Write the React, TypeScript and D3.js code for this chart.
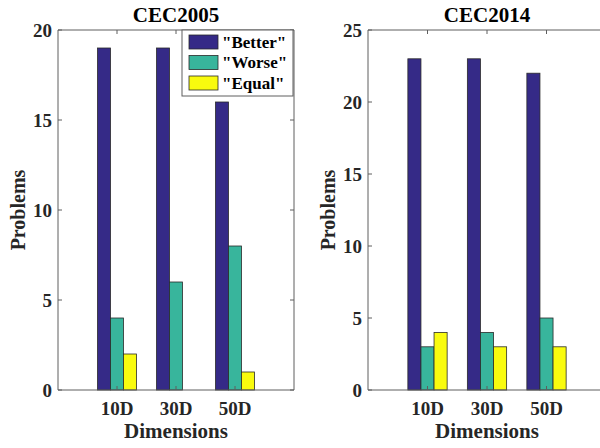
import React from "react";
import * as d3 from "d3";

const categories = ["10D", "30D", "50D"];
const seriesNames = ['"Better"', '"Worse"', '"Equal"'];
const seriesColors = ["#352a87", "#38b59c", "#f9fb0e"];

const cec2005Better = [19, 19, 16];
const cec2005Worse = [4, 6, 8];
const cec2005Equal = [2, 0, 1];

const cec2014Better = [23, 23, 22];
const cec2014Worse = [3, 4, 5];
const cec2014Equal = [4, 3, 3];

const cec2005Ticks = [0, 5, 10, 15, 20];
const cec2014Ticks = [0, 5, 10, 15, 20, 25];

const FONT = "'Liberation Serif', 'Times New Roman', serif";
const AXIS = "#5e5e5e";

type PanelProps = {
  title: string;
  left: number;
  right: number;
  top: number;
  bottom: number;
  yMax: number;
  yTicks: number[];
  values: number[][];
  showRightAxis: boolean;
  legend: boolean;
};

function Panel(p: PanelProps) {
  const x = d3.scaleLinear().domain([0, categories.length + 1]).range([p.left, p.right]);
  const y = d3.scaleLinear().domain([0, p.yMax]).range([p.bottom, p.top]);
  const unit = x(1) - x(0);
  const barW = unit * 0.22;
  const inner = d3
    .scaleBand<number>()
    .domain(seriesNames.map((_, i) => i))
    .range([-1.5 * barW, 1.5 * barW])
    .padding(0);
  const tl = 4;
  const cx = (p.left + p.right) / 2;
  const cy = (p.top + p.bottom) / 2;
  return (
    <g>
      <text x={cx} y={22} textAnchor="middle" fontFamily={FONT} fontWeight="bold" fontSize={21} fill="#000">
        {p.title}
      </text>
      {categories.map((c, ci) =>
        p.values.map((vals, si) =>
          vals[ci] > 0 ? (
            <rect
              key={c + si}
              x={x(ci + 1) + (inner(si) as number)}
              y={y(vals[ci])}
              width={inner.bandwidth()}
              height={y(0) - y(vals[ci])}
              fill={seriesColors[si]}
              stroke="#2a2a2a"
              strokeWidth={0.8}
            />
          ) : null
        )
      )}
      <line x1={p.left} x2={p.left} y1={p.top} y2={p.bottom} stroke={AXIS} strokeWidth={1} />
      <line x1={p.left} x2={p.right} y1={p.bottom} y2={p.bottom} stroke={AXIS} strokeWidth={1} />
      <line x1={p.left} x2={p.right} y1={p.top} y2={p.top} stroke={AXIS} strokeWidth={1} />
      {p.showRightAxis && <line x1={p.right} x2={p.right} y1={p.top} y2={p.bottom} stroke={AXIS} strokeWidth={1} />}
      {p.yTicks.map((t) => (
        <g key={t}>
          <line x1={p.left} x2={p.left + tl} y1={y(t)} y2={y(t)} stroke={AXIS} />
          {p.showRightAxis && <line x1={p.right} x2={p.right - tl} y1={y(t)} y2={y(t)} stroke={AXIS} />}
          <text x={p.left - 6} y={y(t) + 6.5} textAnchor="end" fontFamily={FONT} fontWeight="bold" fontSize={19} fill="#262626">
            {t}
          </text>
        </g>
      ))}
      {categories.map((c, ci) => (
        <g key={c}>
          <line x1={x(ci + 1)} x2={x(ci + 1)} y1={p.top} y2={p.top + tl} stroke={AXIS} />
          <line x1={x(ci + 1)} x2={x(ci + 1)} y1={p.bottom} y2={p.bottom - tl} stroke={AXIS} />
          <text x={x(ci + 1)} y={415} textAnchor="middle" fontFamily={FONT} fontWeight="bold" fontSize={19} fill="#262626">
            {c}
          </text>
        </g>
      ))}
      <text x={cx} y={438} textAnchor="middle" fontFamily={FONT} fontWeight="bold" fontSize={21} fill="#262626">
        Dimensions
      </text>
      <text
        transform={`translate(${p.left - 33},${cy}) rotate(-90)`}
        textAnchor="middle"
        fontFamily={FONT}
        fontWeight="bold"
        fontSize={20}
        fill="#262626"
      >
        Problems
      </text>
      {p.legend && (
        <g>
          <rect x={182} y={p.top} width={p.right - 183} height={66} fill="#fff" stroke={AXIS} strokeWidth={1} />
          {seriesNames.map((s, si) => (
            <g key={s}>
              <rect x={189} y={p.top + 5 + si * 20.5} width={29} height={14} fill={seriesColors[si]} stroke="#2a2a2a" strokeWidth={0.8} />
              <text x={222} y={p.top + 17.5 + si * 20.5} fontFamily={FONT} fontWeight="bold" fontSize={17} fill="#000">
                {s}
              </text>
            </g>
          ))}
        </g>
      )}
    </g>
  );
}

export default function App() {
  return (
    <svg width={600} height={448} style={{ position: "absolute", left: 0, top: 0, background: "#fff" }}>
      <rect x={0} y={0} width={600} height={448} fill="#fff" />
      <Panel
        title="CEC2005"
        left={58}
        right={294}
        top={30}
        bottom={390}
        yMax={20}
        yTicks={cec2005Ticks}
        values={[cec2005Better, cec2005Worse, cec2005Equal]}
        showRightAxis={true}
        legend={true}
      />
      <Panel
        title="CEC2014"
        left={368}
        right={606}
        top={30}
        bottom={390}
        yMax={25}
        yTicks={cec2014Ticks}
        values={[cec2014Better, cec2014Worse, cec2014Equal]}
        showRightAxis={true}
        legend={false}
      />
    </svg>
  );
}
